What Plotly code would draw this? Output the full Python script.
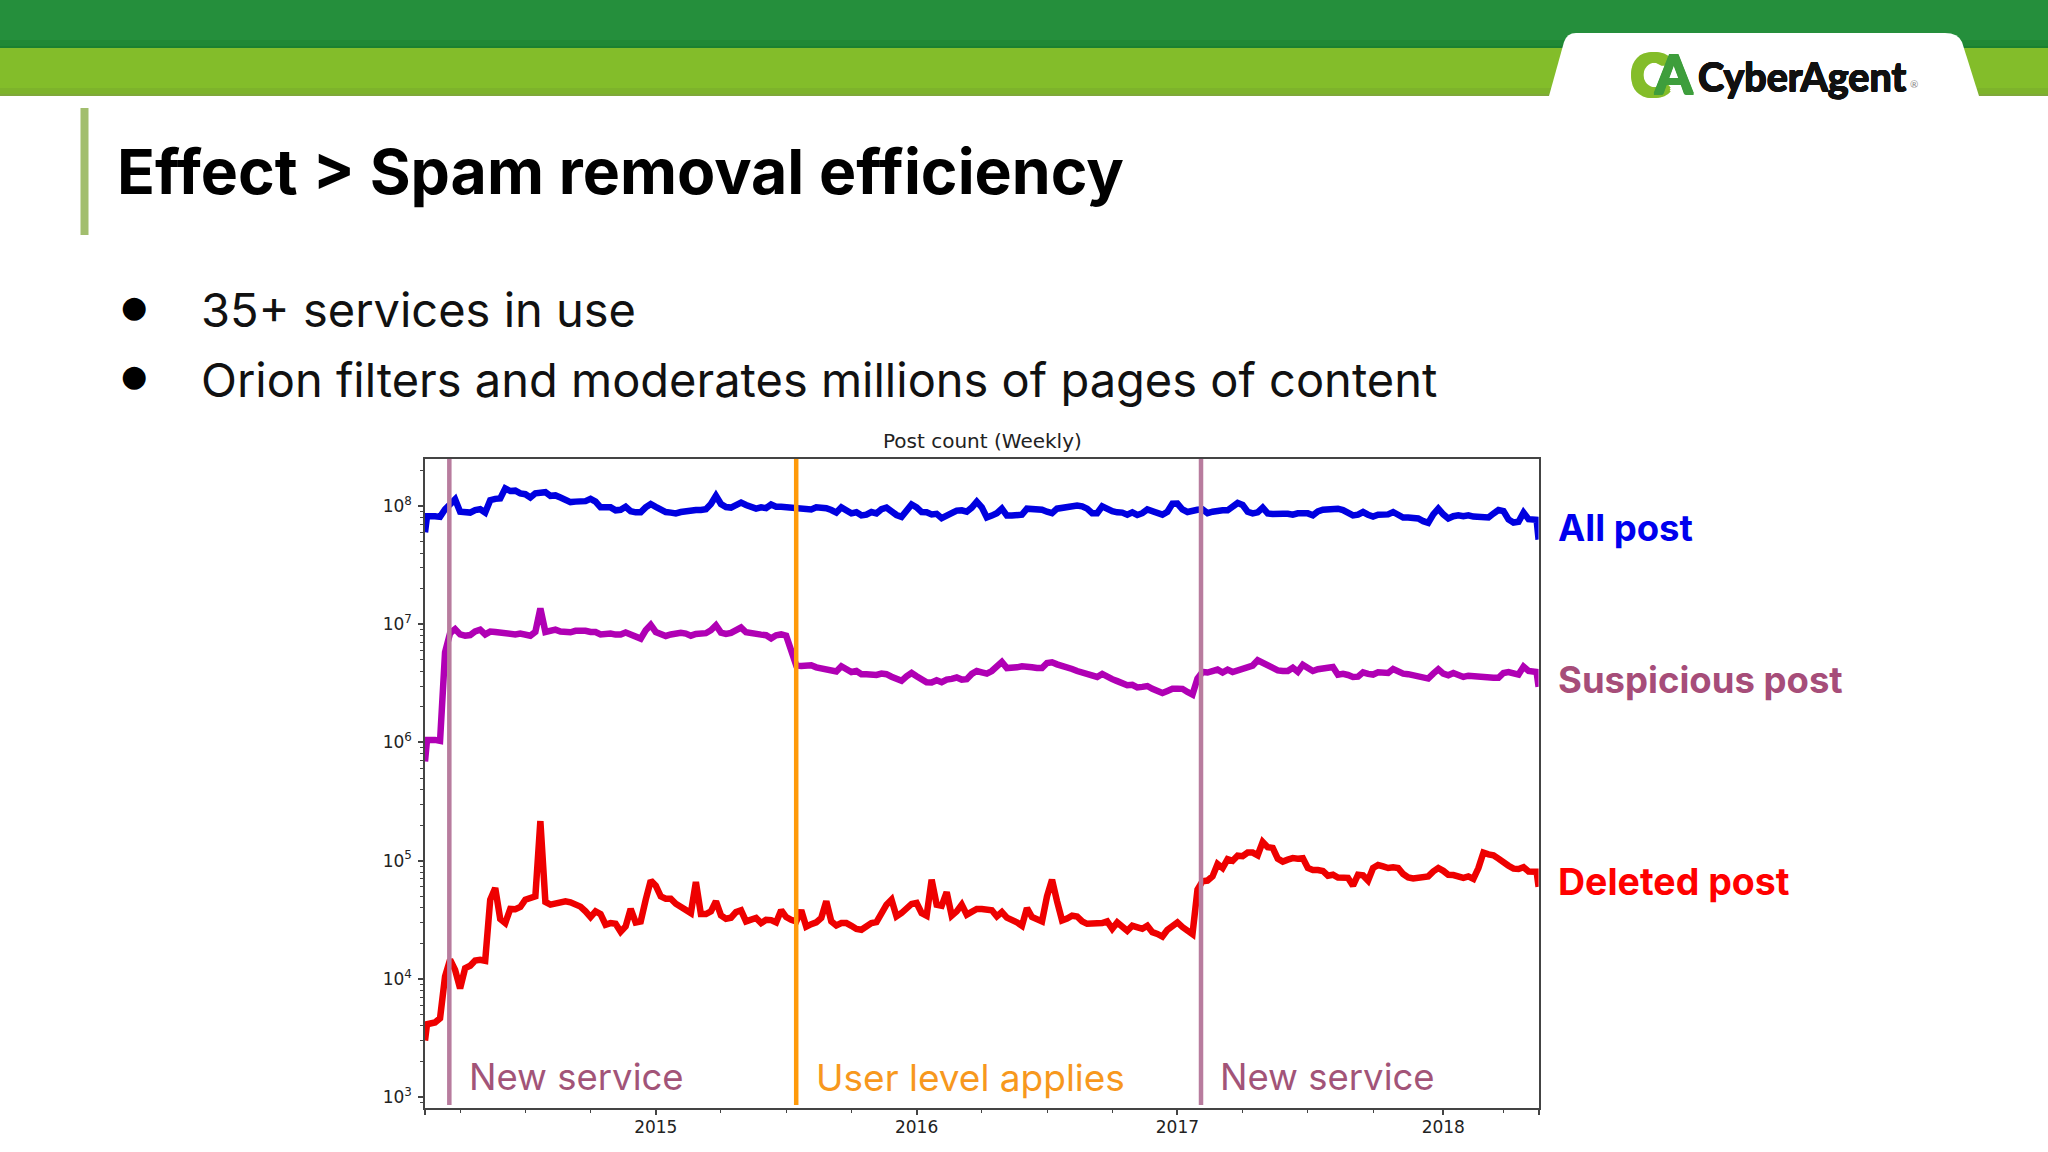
import plotly.graph_objects as go

# Weekly series. Week 0 is the first week on the time axis.
all_post_millions = [
    60, 82, 82, 81, 94, 105, 114, 89.5, 88, 88,
    92.5, 94, 88, 112, 115, 116, 141, 134, 135, 128,
    126, 118, 128, 131, 131, 122, 123, 118, 112, 108,
    109, 109, 110, 115, 109, 97.5, 97, 97.5, 92, 93,
    98.5, 90.5, 88.5, 88.5, 97.5, 104, 98.5, 93.5, 89, 88,
    86.7, 89, 91, 93, 92.5, 92.5, 94, 104, 122, 104,
    98, 97, 102, 107, 102, 98, 95, 97.5, 96, 103,
    98.7, 98.7, 98, 96, 95, 95, 92.5, 93.5, 97.5, 98,
    96, 92.5, 88, 97.5, 92, 86.7, 88.5, 83.4, 84.5, 89,
    86.7, 94, 97, 90, 84, 81, 93.5, 103, 97.5, 89,
    88.5, 85, 86, 79, 83, 87.5, 91.5, 92, 89.5, 97,
    109, 97.5, 80, 83, 87, 95, 83, 83, 83, 84.5,
    95, 95, 95, 93, 89.5, 87, 95, 96.5, 100.5, 100,
    101, 99.5, 95, 87, 87, 99.5, 94.5, 90.5, 88.5, 88,
    84.5, 88.5, 84, 87, 93.5, 89.5, 87, 84.5, 89.5, 104.5,
    105, 93.5, 89, 92, 93, 93.7, 87, 89.5, 92, 92,
    92, 100, 106, 102, 89.5, 86.7, 88.5, 97, 86.7, 85.6,
    86.7, 86, 86, 84.5, 86.7, 87, 86.7, 83.4, 90, 93,
    94.5, 95, 95, 92.5, 88.5, 83.4, 84.5, 89, 84.5, 81.5,
    84.5, 84.5, 85, 89, 83, 80, 80, 79.5, 78.5, 74.5,
    72, 85, 95, 85, 78.5, 82, 83.5, 82, 83.5, 81.5,
    81.5, 81, 80, 86.5, 92.5, 90.5, 77, 72.5, 73.5, 88,
    77.5, 76.5, 52,
]
suspicious_post_millions = [
    0.69, 1.05, 1.05, 1.03, 5.8, 8.4, 9.1, 8.2, 8.0, 8.1,
    8.7, 9.0, 8.2, 8.67, 8.6, 8.45, 8.34, 8.2, 8.2, 8.34,
    8.2, 8.0, 8.6, 13.6, 8.6, 8.8, 9.0, 8.67, 8.55, 8.55,
    8.8, 8.85, 8.8, 8.6, 8.6, 8.2, 8.34, 8.34, 8.17, 8.17,
    8.5, 8.2, 7.96, 7.56, 8.9, 9.87, 8.6, 8.34, 7.96, 8.2,
    8.34, 8.45, 8.34, 8.0, 8.28, 8.4, 8.4, 8.9, 9.8, 8.5,
    8.28, 8.45, 8.9, 9.37, 8.55, 8.34, 8.2, 8.17, 8.07, 7.6,
    8.07, 8.2, 8.0, 6.0, 4.5, 4.44, 4.5, 4.5, 4.32, 4.24,
    4.27, 4.14, 3.99, 4.41, 4.14, 3.94, 4.02, 3.77, 3.77, 3.75,
    3.72, 3.82, 3.78, 3.6, 3.45, 3.32, 3.63, 3.87, 3.63, 3.4,
    3.23, 3.21, 3.36, 3.23, 3.4, 3.45, 3.54, 3.4, 3.43, 3.8,
    4.02, 3.92, 3.82, 4.02, 4.35, 4.8, 4.26, 4.26, 4.32, 4.41,
    4.41, 4.32, 4.26, 4.26, 4.7, 4.77, 4.58, 4.47, 4.41, 4.18,
    4.02, 3.9, 3.9, 3.74, 3.58, 3.8, 3.67, 3.43, 3.3, 3.15,
    3.05, 3.07, 2.92, 2.95, 3.0, 2.84, 2.7, 2.62, 2.73, 2.85,
    2.85, 2.84, 2.67, 2.54, 3.47, 3.94, 3.9, 3.96, 4.13, 3.9,
    4.13, 3.94, 4.07, 4.24, 4.41, 4.47, 4.96, 4.7, 4.44, 4.29,
    4.07, 4.02, 4.02, 4.29, 3.96, 4.53, 4.24, 4.02, 4.16, 4.24,
    4.29, 4.35, 3.74, 3.8, 3.72, 3.58, 3.6, 3.92, 3.8, 3.75,
    3.92, 3.94, 3.87, 4.18, 3.96, 3.82, 3.78, 3.7, 3.58, 3.52,
    3.47, 3.82, 4.16, 3.82, 3.7, 3.87, 3.7, 3.58, 3.67, 3.63,
    3.54, 3.52, 3.52, 3.52, 3.52, 3.87, 3.94, 3.8, 3.75, 4.38,
    4.02, 3.94, 2.95,
]
deleted_post_thousands = [
    3.0, 4.13, 4.27, 4.64, 10.5, 14.5, 11.9, 8.3, 12.3, 12.9,
    14.3, 14.5, 14.2, 46.7, 58.7, 32, 29.6, 39, 38.8, 40.5,
    46.7, 49, 49.8, 216, 44.7, 42.4, 43, 44.4, 45.3, 44.4,
    42.4, 40.8, 37.2, 33.3, 37.2, 35.3, 28.7, 29.6, 29.2, 25,
    27.8, 39, 30, 30.6, 46.7, 67.8, 61.4, 49.8, 47.6, 47.6,
    43.2, 41, 39.2, 36, 66, 35.3, 35.3, 37.2, 45.3, 34.4,
    32.2, 32.9, 36.7, 38, 30.6, 31.6, 32.7, 29.6, 31.6, 31.4,
    30, 38, 33.3, 31.6, 30.6, 38, 27.6, 29, 30, 32.7,
    45.3, 30.6, 28.3, 29.6, 29.6, 28.1, 26.4, 26, 28.1, 29.6,
    30.2, 36.7, 42.4, 46.7, 33.7, 36, 39, 43, 43.8, 36,
    34.2, 69, 42.4, 41.5, 54, 34.2, 37.2, 42.4, 34.9, 37.2,
    39, 39, 39, 38, 33.7, 36.7, 32.9, 31.8, 30, 28.1,
    39.7, 33.3, 31.6, 30.6, 49.8, 69, 45.3, 31.2, 32.4, 34.2,
    33.7, 30.6, 29.2, 29.2, 28.7, 29.6, 30.6, 26.5, 30, 27.8,
    25.5, 28.1, 27.4, 26.5, 28.1, 24.8, 24, 22.8, 26, 27.8,
    30, 27.4, 25.2, 23.9, 56.8, 67, 67.8, 73.6, 93.6, 86.6,
    103, 99.8, 110, 109, 117, 117, 111, 144, 130, 128,
    104, 98.2, 102, 105, 104, 105, 86.6, 83.3, 83.3, 81.8,
    74.6, 76, 72, 72, 71.5, 61.4, 76, 75, 67.8, 86.6,
    91.8, 89.3, 86.6, 88, 86.6, 77, 72, 70.8, 71.2, 71.5,
    73.6, 81, 86.6, 82, 76, 75.5, 73.6, 71.5, 73.6, 70,
    86.6, 117, 113, 111, 104, 95.3, 90.5, 85.5, 85, 88,
    81, 80.7, 60,
]
assert len(all_post_millions) == len(suspicious_post_millions) == len(deleted_post_thousands) == 223

year_labels = ["2015", "2016", "2017", "2018"]
year_weeks = [46, 98, 150, 203]
quarter_weeks = [7, 20, 33, 59, 72, 85, 111, 124, 137, 163, 176, 189, 215]
axis_end_weeks = [0, 222]
decade_values = [1e3, 1e4, 1e5, 1e6, 1e7, 1e8]
decade_labels = ["10<sup>3</sup>", "10<sup>4</sup>", "10<sup>5</sup>", "10<sup>6</sup>", "10<sup>7</sup>", "10<sup>8</sup>"]
new_service_weeks = [4.85, 154.7]
user_level_week = 74

W, H = 2048, 1152
fx = lambda x: x / W
fy = lambda y: 1 - y / H

# The first and last samples are partial weeks that sit right against the axis edges.
weeks = [0, 0.4] + list(range(2, 221)) + [221.6, 222]
series = [
    ("All post", [v * 1e6 for v in all_post_millions], "#0000E0"),
    ("Suspicious post", [v * 1e6 for v in suspicious_post_millions], "#B000B4"),
    ("Deleted post", [v * 1e3 for v in deleted_post_thousands], "#EE0000"),
]

fig = go.Figure()
for name, vals, color in series:
    fig.add_trace(go.Scatter(x=weeks, y=vals, mode="lines", name=name,
                             line=dict(color=color, width=6.5), showlegend=False))

minor_y = [m * d for d in [1e2, 1e3, 1e4, 1e5, 1e6, 1e7, 1e8] for m in range(2, 10)]

def rect(x0, y0, x1, y1, color):
    return dict(type="rect", xref="paper", yref="paper", x0=fx(x0), x1=fx(x1), y0=fy(y0), y1=fy(y1),
                fillcolor=color, line=dict(width=0), layer="below")

def vline(week, color):
    return dict(type="line", xref="x", yref="paper", x0=week, x1=week, y0=fy(1105), y1=fy(459),
                line=dict(color=color, width=4.5), layer="above")

tab_pts = [("M", 1549, 96), ("L", 1564, 42), ("Q", 1567, 33), ("", 1576, 33), ("L", 1945, 33),
           ("Q", 1958, 33), ("", 1962, 42), ("L", 1979, 96), ("Z",)]
tab_path = " ".join(
    p[0] if len(p) == 1 else f"{p[0]} {fx(p[1]):.5f} {fy(p[2]):.5f}" for p in tab_pts
)

shapes = [
    rect(0, 0, W, 48, "#258F3C"),
    rect(0, 40, W, 46, "#1F8835"),
    rect(0, 46, W, 48, "#1A8030"),
    rect(0, 48, W, 96, "#83BD2A"),
    rect(0, 88, W, 94, "#7DB32B"),
    rect(0, 94, W, 96, "#7FA83A"),
    dict(type="path", xref="paper", yref="paper", path=tab_path, fillcolor="#FFFFFF",
         line=dict(width=0), layer="below"),
    rect(80.5, 108, 88.5, 235, "#A2BE6E"),
    vline(new_service_weeks[0], "#B87C9E"),
    vline(user_level_week, "#FF9A0A"),
    vline(new_service_weeks[1], "#B87C9E"),
]

def halo(color, r):
    return ", ".join(f"{dx}px {dy}px 0 {color}" for dx, dy in
                     [(r, 0), (-r, 0), (0, r), (0, -r), (r, r), (-r, r), (r, -r), (-r, -r)])

def note(text, x, y, size, color, bold=False, family="Inter", anchor="left", shadow=None):
    font = dict(family=family, size=size, color=color)
    if shadow is not None:
        font["shadow"] = shadow
    return dict(text=f"<b>{text}</b>" if bold else text, x=fx(x), y=fy(y), xref="paper", yref="paper",
                xanchor=anchor, yanchor="middle", showarrow=False, font=font, align="left")

annotations = [
    note("Effect &gt; Spam removal efficiency", 115, 171, 62.5, "#000000", bold=True),
    note("●", 134, 306, 30, "#000000", family="DejaVu Sans", anchor="center"),
    note("●", 134, 376, 30, "#000000", family="DejaVu Sans", anchor="center"),
    note("35+ services in use", 199, 309, 47, "#111111"),
    note("Orion filters and moderates millions of pages of content", 199, 379, 47, "#111111"),
    note("Post count (Weekly)", 982, 441, 20, "#222222", family="DejaVu Sans", anchor="center"),
    note("New service", 467, 1077, 36.5, "#A25478"),
    note("User level applies", 814, 1077, 37, "#F7981D"),
    note("New service", 1218, 1077, 36.5, "#A25478"),
    note("All post", 1556, 528, 36.5, "#0000EE", bold=True),
    note("Suspicious post", 1556, 680, 36.5, "#A64D79", bold=True),
    note("Deleted post", 1556, 881, 37.5, "#FF0000", bold=True),
    note("C", 1650, 73, 58, "#84BD2A", bold=True, family="Lato", anchor="center", shadow=halo("#84BD2A", 2)),
    note("A", 1673, 73, 54, "#3E9E3C", bold=True, family="Lato", anchor="center", shadow=halo("#3E9E3C", 1)),
    note("CyberAgent", 1696, 76, 39.5, "#111111", bold=True, family="Lato", shadow=halo("#111111", 0.5)),
    note("®", 1908, 84, 10, "#888888", family="Lato"),
]

tick_font = dict(family="DejaVu Sans", size=17, color="#222222")
fig.update_layout(
    width=W, height=H, margin=dict(l=0, r=0, t=0, b=0), autosize=False,
    paper_bgcolor="#FFFFFF", plot_bgcolor="#FFFFFF", showlegend=False,
    shapes=shapes, annotations=annotations,
    xaxis=dict(
        domain=[fx(425), fx(1538.6)], range=[0, 222], type="linear", automargin=False,
        tickmode="array", tickvals=axis_end_weeks + year_weeks, ticktext=["", ""] + year_labels,
        ticks="outside", ticklen=5, tickwidth=1.5, tickcolor="#444444", ticklabelstandoff=-2,
        tickfont=tick_font,
        showgrid=False, zeroline=False, showline=True, mirror=True, linecolor="#444444", linewidth=1.5,
        minor=dict(tickmode="array", tickvals=quarter_weeks, ticks="outside", ticklen=3, tickwidth=1.2,
                   tickcolor="#444444", showgrid=False),
    ),
    yaxis=dict(
        domain=[fy(1108), fy(459)], type="log", range=[2.907, 8.398], automargin=False,
        tickmode="array", tickvals=decade_values, ticktext=decade_labels,
        ticks="outside", ticklen=5, tickwidth=1.5, tickcolor="#444444", ticklabelstandoff=3,
        tickfont=tick_font,
        showgrid=False, zeroline=False, showline=True, mirror=True, linecolor="#444444", linewidth=1.5,
        minor=dict(tickmode="array", tickvals=minor_y, ticks="outside", ticklen=3, tickwidth=1,
                   tickcolor="#444444", showgrid=False),
    ),
)

fig.write_html("out.html", config={"displayModeBar": False},
               post_script="document.body.style.margin='0';")
